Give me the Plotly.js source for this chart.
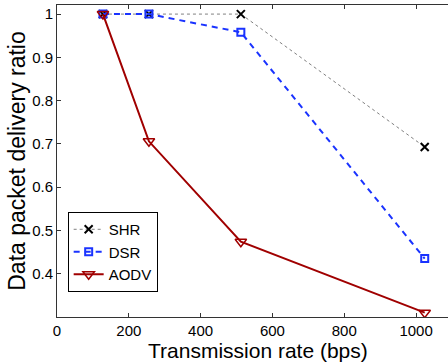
<!DOCTYPE html>
<html><head><meta charset="utf-8">
<script src="https://cdn.plot.ly/plotly-3.0.1.min.js"></script>
<style>html,body{margin:0;padding:0;overflow:hidden;background:#fff;}#chart{width:452px;height:363px;}</style>
</head><body><div id="chart"></div>
<script>
var rates = [128, 256, 512, 1024];
var shr = [1.0, 1.0, 1.0, 0.693];
var dsr = [1.0, 1.0, 0.958, 0.435];
var aodv = [1.0, 0.706, 0.474, 0.31];
var seriesNames = ['SHR', 'DSR', 'AODV'];
var xTicks = [0, 200, 400, 600, 800, 1000];
var yTicks = [0.4, 0.5, 0.6, 0.7, 0.8, 0.9, 1];
var xTitle = 'Transmission rate (bps)';
var yTitle = 'Data packet delivery ratio';

var traces = [
  {x: rates, y: shr, name: seriesNames[0], mode: 'lines+markers',
   line: {color: '#808080', width: 1, dash: 'dot'},
   marker: {symbol: 'x-thin-open', size: 8, color: '#000', line: {color: '#000', width: 2}}},
  {x: rates, y: dsr, name: seriesNames[1], mode: 'lines+markers',
   line: {color: '#1a33ff', width: 2, dash: '6px,5px'},
   marker: {symbol: 'square-open', size: 7, color: '#1a33ff', line: {color: '#1a33ff', width: 2}}},
  {x: rates, y: aodv, name: seriesNames[2], mode: 'lines+markers',
   line: {color: '#a00000', width: 2},
   marker: {symbol: 'triangle-down-open', size: 10, color: '#a00000', line: {color: '#a00000', width: 1.5}}}
];

var layout = {
  width: 452, height: 363,
  margin: {l: 57, r: 0, t: 5, b: 46},
  paper_bgcolor: '#fff', plot_bgcolor: '#fff',
  font: {family: 'Liberation Sans, Arial, sans-serif', color: '#000'},
  showlegend: true,
  legend: {x: 0.027, y: 0.08, xanchor: 'left', yanchor: 'bottom',
           bgcolor: '#fff', bordercolor: '#000', borderwidth: 1,
           font: {size: 15, color: '#000'}, tracegroupgap: 0},
  annotations: [{text: xTitle, xref: 'paper', yref: 'paper', x: 0.51, y: -0.148,
                 xanchor: 'center', yanchor: 'bottom', showarrow: false, font: {size: 21},
                 borderpad: 0}],
  xaxis: {range: [0, 1100], tickvals: xTicks, ticktext: xTicks.map(String),
          ticks: 'inside', ticklen: 4, tickcolor: '#333', showgrid: false, zeroline: false,
          showline: true, linecolor: '#333', linewidth: 1, mirror: 'ticks',
          tickfont: {size: 15}},
  yaxis: {range: [0.3, 1.021], tickvals: yTicks, ticktext: yTicks.map(String),
          ticks: 'inside', ticklen: 4, tickcolor: '#333', showgrid: false, zeroline: false,
          showline: true, linecolor: '#333', linewidth: 1, mirror: 'ticks',
          tickfont: {size: 15}, title: {text: yTitle, font: {size: 23}, standoff: 0}}
};
Plotly.newPlot('chart', traces, layout, {displayModeBar: false, staticPlot: true});
</script></body></html>
